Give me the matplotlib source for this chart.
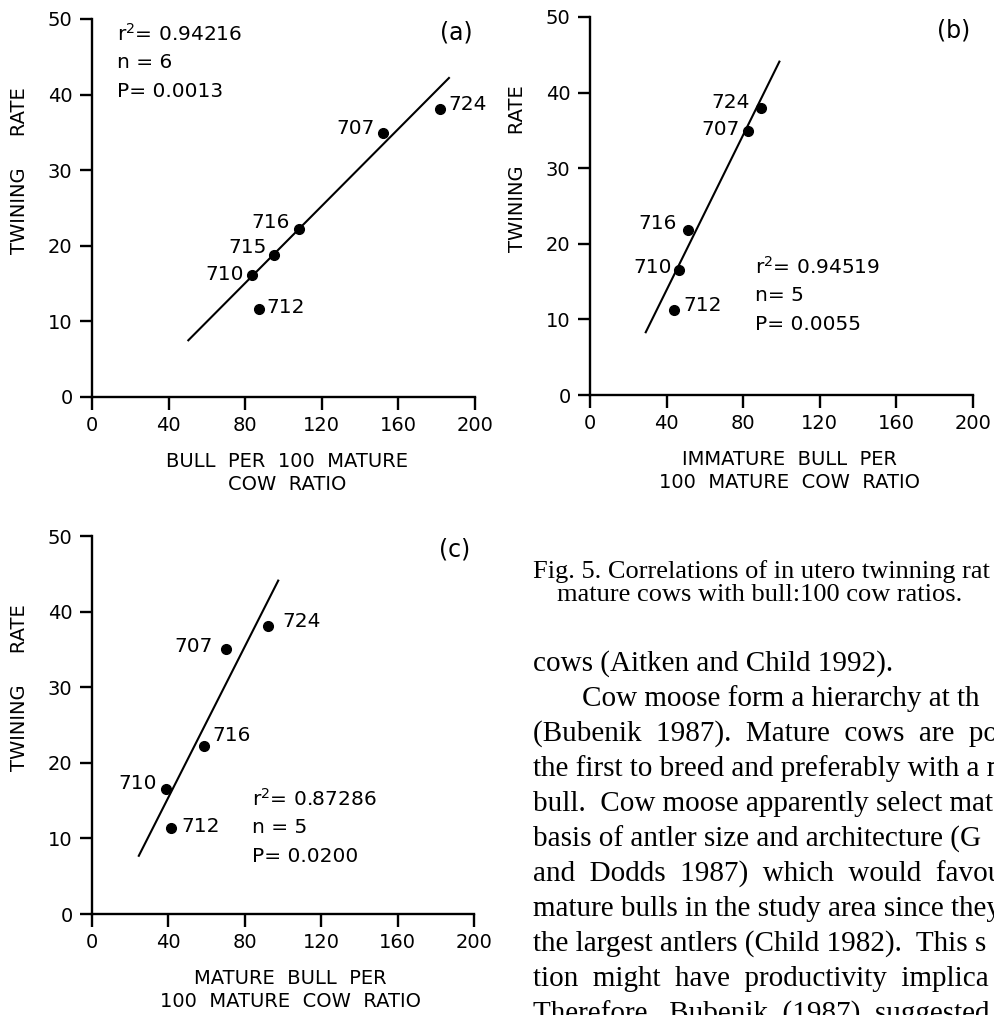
import matplotlib
matplotlib.use("Agg")
import matplotlib.pyplot as plt

W, H = 995, 1015

# herd ids used as point labels
ids_a = ["724", "707", "716", "715", "710", "712"]
ids_bc = ["724", "707", "716", "710", "712"]

# twinning rate (%) vs bull ratios
a_x = [181.7, 151.8, 108.1, 95.0, 83.7, 87.2]
a_y = [38.1, 34.9, 22.2, 18.8, 16.2, 11.7]
b_x = [89.4, 82.7, 51.1, 46.5, 43.9]
b_y = [37.9, 34.9, 21.8, 16.5, 11.3]
c_x = [91.9, 69.9, 58.7, 38.5, 41.6]
c_y = [38.1, 35.0, 22.2, 16.5, 11.4]

# regression line end points
a_fit_x, a_fit_y = [50.3, 186.4], [7.5, 42.2]
b_fit_x, b_fit_y = [29.1, 98.9], [8.3, 44.1]
c_fit_x, c_fit_y = [24.5, 97.5], [7.7, 44.1]

a_stats = ["r$^{2}$= 0.94216", "n = 6", "P= 0.0013"]
b_stats = ["r$^{2}$= 0.94519", "n= 5", "P= 0.0055"]
c_stats = ["r$^{2}$= 0.87286", "n = 5", "P= 0.0200"]

a_xlabel = "BULL  PER  100  MATURE\nCOW  RATIO"
b_xlabel = "IMMATURE  BULL  PER\n100  MATURE  COW  RATIO"
c_xlabel = "MATURE  BULL  PER\n100  MATURE  COW  RATIO"
ylabel = "TWINING     RATE"

xticks = [0, 40, 80, 120, 160, 200]
yticks = [0, 10, 20, 30, 40, 50]

# label offsets (points) and alignment per point
a_offs = [(6, 3, "left"), (-6, 3, "right"), (-7, 5, "right"), (-5, 5, "right"), (-6, 0, "right"), (5, 1, "left")]
b_offs = [(-8, 4, "right"), (-6, 1, "right"), (-8, 5, "right"), (-5, 2, "right"), (7, 3, "left")]
c_offs = [(11, 3, "left"), (-9, 2, "right"), (6, 8, "left"), (-6, 4, "right"), (7, 1, "left")]

caption = ["Fig. 5. Correlations of in utero twinning rat",
           "mature cows with bull:100 cow ratios."]
body = ["cows (Aitken and Child 1992).",
        "Cow moose form a hierarchy at th",
        "(Bubenik  1987).  Mature  cows  are  pos",
        "the first to breed and preferably with a m",
        "bull.  Cow moose apparently select mat",
        "basis of antler size and architecture (G",
        "and  Dodds  1987)  which  would  favou",
        "mature bulls in the study area since they",
        "the largest antlers (Child 1982).  This s",
        "tion  might  have  productivity  implica",
        "Therefore,  Bubenik  (1987)  suggested"]

plt.rcParams["font.family"] = "DejaVu Sans"

fig = plt.figure(figsize=(W / 100, H / 100), dpi=100)


def px_rect(x0, x1, y_top, y_bot):
    return [x0 / W, 1 - y_bot / H, (x1 - x0) / W, (y_bot - y_top) / H]


def panel(rect, xs, ys, ids, offs, fx, fy, stats, stats_pos, tag, xlabel, xlab_x):
    ax = fig.add_axes(rect)
    ax.plot(fx, fy, color="black", lw=1.5)
    ax.plot(xs, ys, "o", color="black", ms=7)
    for x, y, s, (dx, dy, ha) in zip(xs, ys, ids, offs):
        ax.annotate(s, (x, y), xytext=(dx, dy), textcoords="offset points",
                    ha=ha, va="center", fontsize=14.5)
    ax.set_xlim(0, 200)
    ax.set_ylim(0, 50)
    ax.set_xticks(xticks)
    ax.set_yticks(yticks)
    for side in ["top", "right"]:
        ax.spines[side].set_visible(False)
    for side in ["left", "bottom"]:
        ax.spines[side].set_linewidth(1.7)
    ax.tick_params(direction="out", length=9, width=1.7, labelsize=14, pad=5)
    ax.set_xlabel(xlabel, fontsize=14, linespacing=1.3)
    ax.xaxis.set_label_coords(xlab_x, -0.145)
    ax.set_ylabel(ylabel, fontsize=14)
    ax.yaxis.set_label_coords(-0.165, 0.6)
    sx, sy = stats_pos
    for i, s in enumerate(stats):
        ax.text(sx, sy - i * 0.077, s, transform=ax.transAxes, fontsize=14.5,
                ha="left", va="center")
    ax.text(0.95, 0.965, tag, transform=ax.transAxes, fontsize=17,
            ha="center", va="center")
    return ax


panel(px_rect(92, 475, 19, 397), a_x, a_y, ids_a, a_offs, a_fit_x, a_fit_y,
      a_stats, (0.065, 0.962), "(a)", a_xlabel, 0.51)
panel(px_rect(590, 973, 17, 395), b_x, b_y, ids_bc, b_offs, b_fit_x, b_fit_y,
      b_stats, (0.43, 0.34), "(b)", b_xlabel, 0.52)
panel(px_rect(92, 474, 536, 914), c_x, c_y, ids_bc, c_offs, c_fit_x, c_fit_y,
      c_stats, (0.42, 0.305), "(c)", c_xlabel, 0.52)

# caption and running text on the right
fig.text(533 / W, 1 - 572 / H, caption[0], family="Liberation Serif",
         fontsize=19, ha="left", va="center")
fig.text(557 / W, 1 - 595 / H, caption[1], family="Liberation Serif",
         fontsize=19, ha="left", va="center")
for i, line in enumerate(body):
    x = 582 if i == 1 else 533
    fig.text(x / W, 1 - (664 + i * 35) / H, line, family="Liberation Serif",
             fontsize=21, ha="left", va="center")

fig.savefig("out.png", dpi=100)
